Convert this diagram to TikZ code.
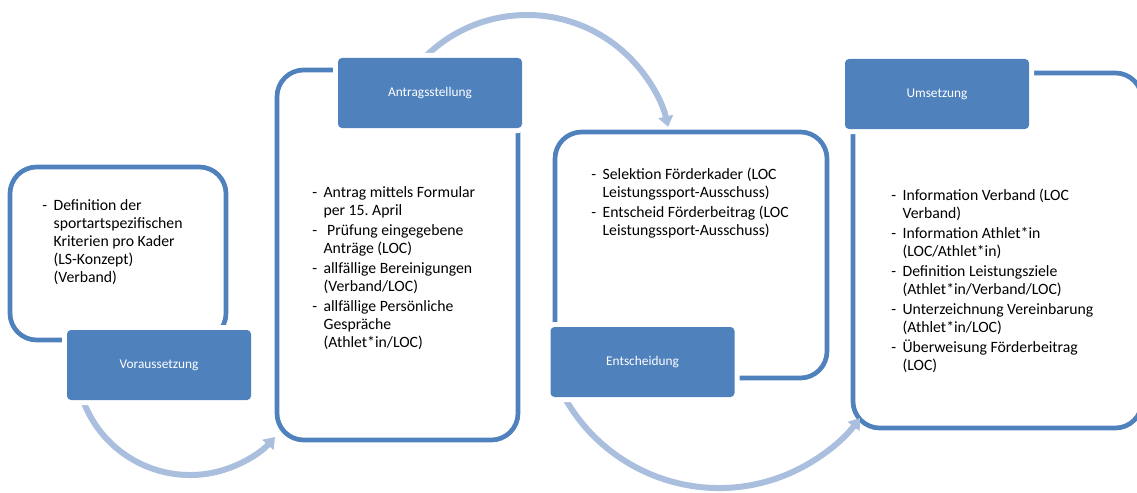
\documentclass[tikz,border=0pt]{standalone}
\usepackage{fontspec}
\setmainfont{Carlito}
\usetikzlibrary{arrows.meta,calc}
\frenchspacing

\definecolor{stageblue}{RGB}{79,129,189}
\definecolor{flowblue}{RGB}{170,190,222}

\tikzset{
	frame/.style={draw=stageblue, line width=3.5pt, rounded corners=20pt},
	stage/.style={fill=stageblue, rounded corners=3pt, text=white,
		minimum width=138pt, minimum height=52.5pt, inner sep=0pt,
		font=\fontsize{10}{12}\selectfont,
		preaction={draw=white, line width=7.5pt}},
	flow/.style={draw=flowblue, line width=4.5pt, -{Triangle[length=8pt,width=11pt]}},
	items/.style={anchor=base west, inner sep=0pt, font=\fontsize{11.8}{13.5}\selectfont}
}
\newcommand{\itemtab}[1]{\begin{tabular}[t]{@{}p{8.5pt}@{}l@{}}#1\end{tabular}}

\begin{document}
\begin{tikzpicture}[x=0.75pt, y=-0.75pt]
		\useasboundingbox (0,0) rectangle (1137,492);
		\clip (0,0) rectangle (1137,492);
		% frames
		\draw[frame] (10,167) rectangle (226,340);
		\draw[frame] (277,70) rectangle (518,440);
		\draw[frame] (555,132) rectangle (827,378);
		\draw[frame] (853,73) rectangle (1142,428);
		% arcs between the stages
		\coordinate (c1) at (190,361);
		\coordinate (c2) at (527,160);
		\coordinate (c3) at (719,311);
		\coordinate (a1s) at ($(c1)+(198:85.5pt)$);
		\coordinate (a2s) at ($(c2)+(136:108.75pt)$);
		\coordinate (a3s) at ($(c3)+(205:132.75pt)$);
		\draw[flow] (a1s) arc[start angle=198, end angle=318.2, radius=85.5pt];
		\draw[flow] (a2s) arc[start angle=136, end angle=13.2, radius=108.75pt];
		\draw[flow] (a3s) arc[start angle=205, end angle=322.8, radius=132.75pt];
		% stage labels
		\node[stage] (vor) at (159,365) {Voraussetzung};
		\node[stage] (antrag) at (430,93) {Antragsstellung};
		\node[stage] (entsch) at (642.5,362) {Entscheidung};
		\node[stage] (umsetz) at (937,94) {Umsetzung};
		% texts
		\node[items] (vortext) at (42,210) {\itemtab{
			- & Definition der\\
			  & sportartspezifischen\\
			  & Kriterien pro Kader\\
			  & (LS-Konzept)\\
			  & (Verband)}};
		\node[items] (antragtext) at (312,197) {\itemtab{
			- & Antrag mittels Formular\\
			  & per 15. April\\[1.5pt]
			- & ~Prüfung eingegebene\\
			  & Anträge (LOC)\\[1.5pt]
			- & allfällige Bereinigungen\\
			  & (Verband/LOC)\\[1.5pt]
			- & allfällige Persönliche\\
			  & Gespräche\\
			  & (Athlet*in/LOC)}};
		\node[items] (entschtext) at (591,179) {\itemtab{
			- & Selektion Förderkader (LOC\\
			  & Leistungssport-Ausschuss)\\[1.5pt]
			- & Entscheid Förderbeitrag (LOC\\
			  & Leistungssport-Ausschuss)}};
		\node[items] (umsetztext) at (891,200) {\itemtab{
			- & Information Verband (LOC\\
			  & Verband)\\[1.5pt]
			- & Information Athlet*in\\
			  & (LOC/Athlet*in)\\[1.5pt]
			- & Definition Leistungsziele\\
			  & (Athlet*in/Verband/LOC)\\[1.5pt]
			- & Unterzeichnung Vereinbarung\\
			  & (Athlet*in/LOC)\\[1.5pt]
			- & Überweisung Förderbeitrag\\
			  & (LOC)}};
	\end{tikzpicture}
\end{document}
